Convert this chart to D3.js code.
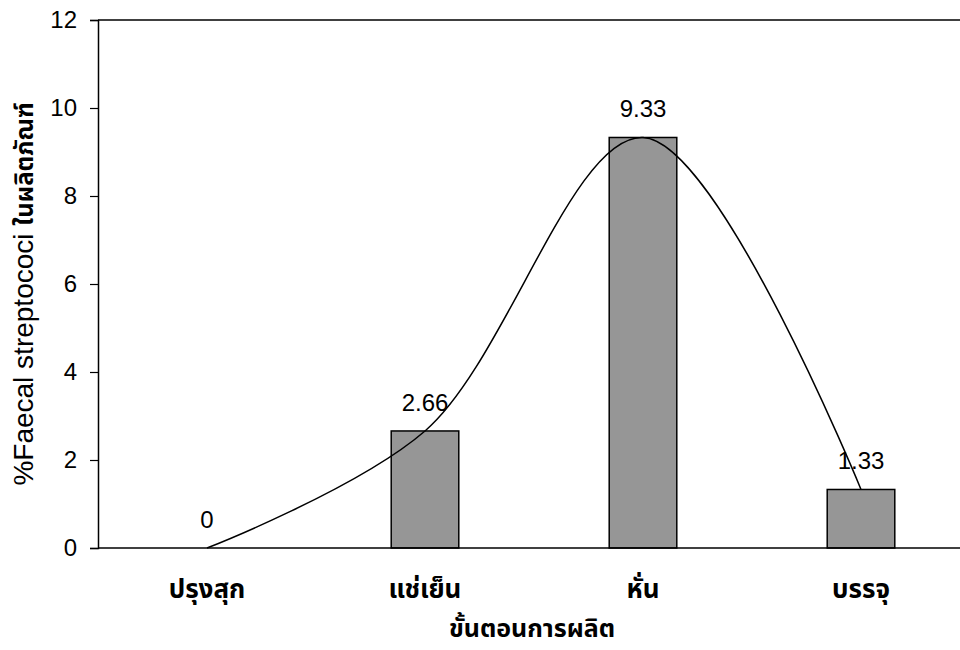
<!DOCTYPE html>
<html><head><meta charset="utf-8">
<script src="https://cdn.jsdelivr.net/npm/d3@7"></script>
<style>body{margin:0;background:#fff}svg{display:block}</style>
</head><body>
<svg id="c" width="960" height="650"></svg>
<script>
const categories = ["ปรุงสุก", "แช่เย็น", "หั่น", "บรรจุ"];
const values = [0, 2.66, 9.33, 1.33];
const valueLabels = ["0", "2.66", "9.33", "1.33"];
const yTicks = [0, 2, 4, 6, 8, 10, 12];
const xTitle = "ขั้นตอนการผลิต";
const yTitleLatin = "%Faecal streptococi ";
const yTitleThai = "ในผลิตภัณฑ์";

const svg = d3.select("#c");
const m = {l: 98, r: 970, t: 20, b: 548};
const font = "'Liberation Sans', Arial, sans-serif";
const thaiFont = "Tahoma, 'Noto Sans Thai', 'Noto Sans', 'DejaVu Sans', sans-serif";

const x = d3.scaleBand().domain(categories).range([m.l, m.r]).paddingInner(0.69).paddingOuter(0.345);
const y = d3.scaleLinear().domain([0, 12]).range([m.b, m.t]);

// bars
svg.append("g").selectAll("rect").data(values).join("rect")
  .attr("x", (d, i) => x(categories[i]))
  .attr("width", x.bandwidth())
  .attr("y", d => y(d))
  .attr("height", d => y(0) - y(d))
  .attr("fill", d => d > 0 ? "#969696" : "none")
  .attr("stroke", d => d > 0 ? "#000" : "none")
  .attr("stroke-width", 1.5);

// frame top line
svg.append("line").attr("x1", m.l).attr("x2", m.r).attr("y1", m.t).attr("y2", m.t)
  .attr("stroke", "#000").attr("stroke-width", 1.5);

// y axis
const ya = svg.append("g").attr("transform", `translate(${m.l},0)`)
  .call(d3.axisLeft(y).tickValues(yTicks).tickSize(8).tickPadding(13).tickFormat(d3.format("d")));
ya.select(".domain").attr("stroke", "#000").attr("stroke-width", 1.5);
ya.selectAll(".tick line").attr("stroke", "#000").attr("stroke-width", 1.2);
ya.selectAll(".tick text").attr("font-family", font).attr("font-size", 24).attr("fill", "#000");

// x axis line
svg.append("line").attr("x1", m.l).attr("x2", m.r).attr("y1", y(0)).attr("y2", y(0))
  .attr("stroke", "#000").attr("stroke-width", 1.5);

// x category labels
svg.append("g").selectAll("text").data(categories).join("text")
  .attr("x", d => x(d) + x.bandwidth() / 2)
  .attr("y", 598)
  .attr("text-anchor", "middle")
  .attr("font-family", thaiFont).attr("font-size", 26).attr("font-weight", "bold")
  .text(d => d);

// smooth line
const line = d3.line()
  .x((d, i) => x(categories[i]) + x.bandwidth() / 2)
  .y(d => y(d))
  .curve(d3.curveCatmullRom.alpha(0.5));
svg.append("path").datum(values).attr("d", line)
  .attr("fill", "none").attr("stroke", "#000").attr("stroke-width", 1.5);

// value labels
svg.append("g").selectAll("text").data(values).join("text")
  .attr("x", (d, i) => x(categories[i]) + x.bandwidth() / 2)
  .attr("y", d => y(d) - 20)
  .attr("text-anchor", "middle")
  .attr("font-family", font).attr("font-size", 24)
  .text((d, i) => valueLabels[i]);

// axis titles
svg.append("text").attr("x", (m.l + m.r) / 2 - 2).attr("y", 637)
  .attr("text-anchor", "middle")
  .attr("font-family", thaiFont).attr("font-size", 25).attr("font-weight", "bold")
  .text(xTitle);

const yt = svg.append("text").attr("transform", "translate(33,294) rotate(-90)")
  .attr("text-anchor", "middle")
  .attr("font-family", font).attr("font-size", 28);
yt.append("tspan").text(yTitleLatin);
yt.append("tspan").attr("font-family", thaiFont).attr("font-size", 24).attr("font-weight", "bold").text(yTitleThai);
</script>
</body></html>
